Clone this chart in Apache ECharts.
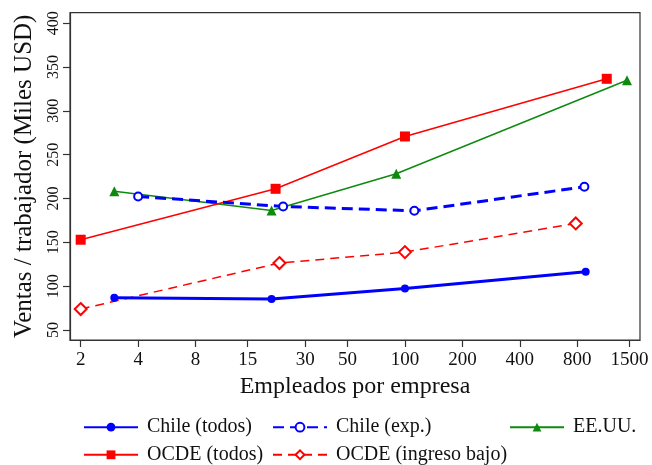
<!DOCTYPE html>
<html>
<head>
<meta charset="utf-8">
<script src="https://cdn.jsdelivr.net/npm/echarts@6/dist/echarts.min.js"></script>
<style>html,body{margin:0;padding:0;background:#fff}#c{width:652px;height:465px}</style>
</head>
<body>
<div id="c"></div>
<script>
// ---- data ----
var xTicks = [2, 4, 8, 15, 30, 50, 100, 200, 400, 800, 1500];
var yTicks = [50, 100, 150, 200, 250, 300, 350, 400];

var chileTodosX = [3, 20, 100, 885];
var chileTodosY = [86.8, 85.3, 97.4, 116.5];

var chileExpX = [4, 23, 112, 871];
var chileExpY = [202.3, 190.9, 186, 213.4];

var eeuuX = [3, 20, 90, 1457];
var eeuuY = [208.4, 186.4, 228.2, 335];

var ocdeTodosX = [2, 21, 100, 1141];
var ocdeTodosY = [153, 211.1, 270.8, 336.6];

var ocdeBajoX = [2, 22, 100, 785];
var ocdeBajoY = [73.9, 126.4, 138.9, 171.6];

var names = ['Chile (todos)', 'Chile (exp.)', 'EE.UU.', 'OCDE (todos)', 'OCDE (ingreso bajo)'];

function pairs(xs, ys) { return xs.map(function (x, i) { return [x, ys[i]]; }); }

var FONT = "'Liberation Serif', 'Times New Roman', serif";
var BLUE = '#0000FF', RED = '#FF0000', GREEN = '#0E8A0E';

function legend(left, top, data) {
  return {
    orient: 'vertical',
    left: left, top: top, height: 70, width: 200,
    padding: 0,
    itemWidth: 54,
    itemHeight: 11,
    itemGap: 7.6,
    textStyle: { fontFamily: FONT, fontSize: 20, color: '#111', lineHeight: 20, padding: [0, 0, 0, 4] },
    data: data
  };
}

var chart = echarts.init(document.getElementById('c'), null, { renderer: 'canvas' });
chart.setOption({
  animation: false,
  backgroundColor: '#fff',
  grid: { left: 70, top: 12.7, right: 12, bottom: 125, show: true, borderColor: '#333', borderWidth: 1.2, containLabel: false },
  legend: [
    legend(83, 417.2, [names[0], names[3]]),
    legend(272, 417.2, [names[1], names[4]]),
    legend(509, 417.2, [names[2]])
  ],
  xAxis: {
    type: 'log',
    logBase: 2,
    min: 1.758,
    max: 1704,
    name: 'Empleados por empresa',
    nameLocation: 'middle',
    nameGap: 29,
    nameTextStyle: { fontFamily: FONT, fontSize: 24, color: '#111' },
    axisLine: { show: true, onZero: false, lineStyle: { color: '#333', width: 1.2 } },
    axisTick: { show: true, inside: false, length: 7, customValues: xTicks, lineStyle: { color: '#333', width: 1.2 } },
    axisLabel: { customValues: xTicks, fontFamily: FONT, fontSize: 19, color: '#111', margin: 11, formatter: function (v) { return String(Math.round(v)); } },
    splitLine: { show: false },
    minorTick: { show: false }
  },
  yAxis: {
    type: 'value',
    min: 38.6,
    max: 412,
    name: 'Ventas / trabajador (Miles USD)',
    nameLocation: 'middle',
    nameRotate: 90,
    nameGap: 33,
    nameTextStyle: { fontFamily: FONT, fontSize: 25, color: '#111' },
    axisLine: { show: true, onZero: false, lineStyle: { color: '#333', width: 1.2 } },
    axisTick: { show: true, inside: false, length: 7, customValues: yTicks, lineStyle: { color: '#333', width: 1.2 } },
    axisLabel: { customValues: yTicks, rotate: 90, fontFamily: FONT, fontSize: 16, color: '#111', margin: 8 },
    splitLine: { show: false }
  },
  series: [
    {
      name: names[0], type: 'line', data: pairs(chileTodosX, chileTodosY),
      symbol: 'circle', symbolSize: 8,
      itemStyle: { color: BLUE },
      lineStyle: { color: BLUE, width: 3 }, z: 5
    },
    {
      name: names[1], type: 'line', data: pairs(chileExpX, chileExpY),
      symbol: 'emptyCircle', symbolSize: 8,
      itemStyle: { color: BLUE, borderWidth: 1.5 },
      lineStyle: { color: BLUE, width: 3, type: [11, 6] }, z: 4
    },
    {
      name: names[2], type: 'line', data: pairs(eeuuX, eeuuY),
      symbol: 'triangle', symbolSize: 10,
      itemStyle: { color: GREEN },
      lineStyle: { color: GREEN, width: 1.5 }, z: 3
    },
    {
      name: names[3], type: 'line', data: pairs(ocdeTodosX, ocdeTodosY),
      symbol: 'rect', symbolSize: 10,
      itemStyle: { color: RED },
      lineStyle: { color: RED, width: 1.5 }, z: 3
    },
    {
      name: names[4], type: 'line', data: pairs(ocdeBajoX, ocdeBajoY),
      symbol: 'emptyDiamond', symbolSize: 12,
      itemStyle: { color: RED, borderWidth: 1.5 },
      lineStyle: { color: RED, width: 1.5, type: [9, 6] }, z: 3
    }
  ]
});
</script>
</body>
</html>
